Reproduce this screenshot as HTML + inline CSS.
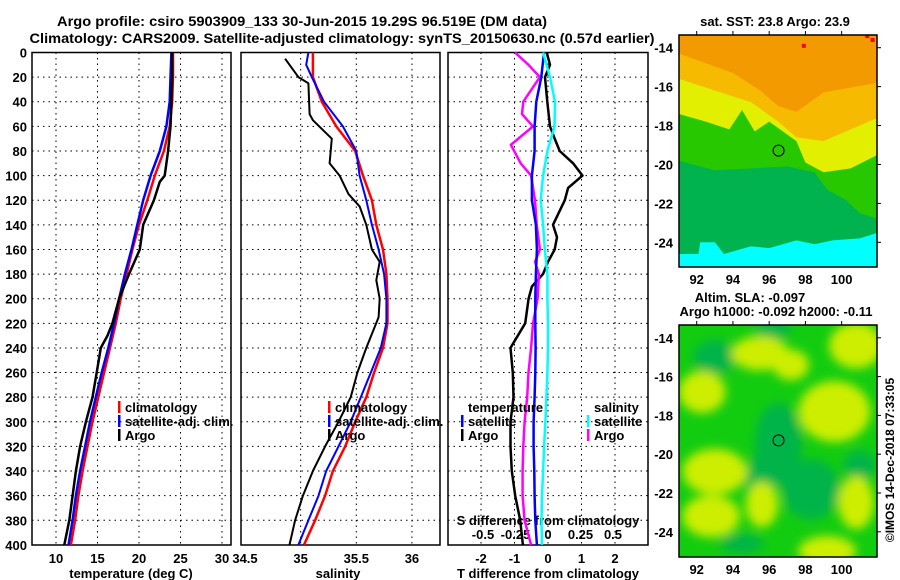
<!DOCTYPE html>
<html><head><meta charset="utf-8"><style>
html,body{margin:0;padding:0;background:#fff}
svg{display:block}
text{font-family:"Liberation Sans",sans-serif;font-weight:bold;fill:#000}
</style></head><body>
<svg id="c" width="900" height="580" viewBox="0 0 900 580" xmlns="http://www.w3.org/2000/svg">
<defs>
<clipPath id="m1c"><rect x="679" y="35" width="198" height="232"/></clipPath>
<clipPath id="m2c"><rect x="679" y="325" width="198" height="232"/></clipPath>
<filter id="bl"><feGaussianBlur stdDeviation="5"/></filter>
</defs>
<text x="302" y="26" font-size="14" text-anchor="middle" textLength="490" lengthAdjust="spacingAndGlyphs">Argo profile: csiro 5903909_133 30-Jun-2015 19.29S 96.519E (DM data)</text>
<text x="342" y="43" font-size="14" text-anchor="middle" textLength="625" lengthAdjust="spacingAndGlyphs">Climatology: CARS2009. Satellite-adjusted climatology: synTS_20150630.nc (0.57d earlier)</text>
<g id="g"></g>
</svg>
<script>
// ---- data (depth in m) ----
const depthsT = [0,20,40,60,80,100,120,140,160,180,200,220,240,260,280,300,320,340,360,380,400];
const tempClim = [24.1,24.1,24.0,23.7,23.0,21.9,21.0,20.0,19.2,18.5,17.8,17.2,16.5,15.8,15.1,14.4,13.8,13.2,12.7,12.3,11.8];
const tempSat = [23.9,23.8,23.7,23.3,22.5,21.4,20.5,19.8,19.1,18.3,17.6,17.0,16.3,15.5,14.8,14.1,13.5,12.9,12.4,12.0,11.5];
const depthsTA = [0,20,40,60,80,90,100,105,120,140,160,180,200,220,230,240,260,280,300,320,340,360,380,400];
const tempArgo = [24.0,24.0,23.9,23.8,23.5,23.3,23.1,22.5,21.8,20.5,20.1,18.8,17.6,16.8,16.2,15.4,14.9,14.4,13.6,12.9,12.4,12.0,11.6,11.0];
const depthsS = [0,10,20,40,60,80,100,120,140,160,180,200,220,240,260,280,300,320,340,360,380,400];
const salClim = [35.11,35.11,35.11,35.19,35.32,35.49,35.56,35.64,35.68,35.74,35.77,35.78,35.78,35.74,35.66,35.59,35.49,35.40,35.29,35.22,35.13,35.03];
const salSat = [35.07,35.05,35.10,35.21,35.38,35.50,35.53,35.59,35.64,35.70,35.75,35.77,35.77,35.72,35.63,35.54,35.45,35.34,35.23,35.16,35.07,34.98];
const depthsSA = [5,10,20,25,50,55,70,90,100,115,125,140,160,170,185,200,215,240,260,280,300,320,340,360,380,400];
const salArgo = [34.86,34.90,34.98,35.07,35.08,35.11,35.28,35.26,35.35,35.43,35.53,35.59,35.64,35.71,35.68,35.71,35.70,35.59,35.51,35.45,35.34,35.22,35.11,35.02,34.95,34.90];
const depthsD = [0,20,40,60,80,100,120,140,160,180,200,220,240,260,280,300,320,340,360,380,400];
const tDiffSat = [-0.12,-0.2,-0.35,-0.4,-0.4,-0.48,-0.48,-0.36,-0.33,-0.36,-0.38,-0.38,-0.37,-0.38,-0.4,-0.43,-0.43,-0.41,-0.4,-0.38,-0.33];
const depthsTD = [0,10,20,40,60,70,80,90,100,110,120,140,150,160,170,180,190,200,220,240,260,280,300,320,340,360,380,400];
const tDiffArgo = [-0.04,0.06,-0.09,-0.02,0.06,0.2,0.35,0.75,1.03,0.6,0.5,0.15,0.27,0.2,0,-0.15,-0.48,-0.58,-0.68,-1.12,-1.05,-1.03,-1.12,-1.12,-1.08,-0.98,-0.83,-0.75];
const sDiffSat = [-0.038,0.015,0.054,0.05,-0.005,-0.038,-0.056,-0.038,-0.025,-0.005,-0.005,0,0,-0.005,-0.012,-0.02,-0.03,-0.038,-0.046,-0.05,-0.046];
const depthsSD = [0,10,20,40,50,60,75,90,100,120,140,160,170,180,200,220,240,260,280,300,320,340,360,380,400];
const sDiffArgo = [-0.254,-0.15,-0.062,-0.19,-0.2,-0.115,-0.285,-0.21,-0.13,-0.1,-0.087,-0.062,-0.1,-0.07,-0.08,-0.115,-0.13,-0.15,-0.16,-0.18,-0.19,-0.195,-0.195,-0.18,-0.13];
const depthTicks = [0,20,40,60,80,100,120,140,160,180,200,220,240,260,280,300,320,340,360,380,400];
const tempTicks = [10,15,20,25,30];
const salTicks = [34.5,35,35.5,36];
const tDiffTicks = [-2,-1,0,1,2];
const sDiffTicks = ["-0.5","-0.25","0","0.25","0.5"];
const lonTicks = [92,94,96,98,100];
const latTicks = [-14,-16,-18,-20,-22,-24];
const argoLon = 96.519, argoLat = -19.29;

// ---- scales ----
const NS="http://www.w3.org/2000/svg", G=document.getElementById('g');
const yD = d => 52.5 + d*1.231;
const xT = t => 56 + (t-10)*8.3;
const xS = s => 245 + (s-34.5)*111.3;
const xTD = v => 548 + v*33.5;
const xSD = v => 548 + v*130;
const xLon = l => 696.7 + (l-92)*18.12;
const yLat1 = l => 47.7 + (-14-l)*19.46;
const yLat2 = l => 337.8 + (-14-l)*19.4;
function el(tag, attrs, parent){const e=document.createElementNS(NS,tag);for(const k in attrs)e.setAttribute(k,attrs[k]);(parent||G).appendChild(e);return e;}
function txt(x,y,s,size,anchor,parent){const e=el('text',{x:x,y:y,'font-size':size,'text-anchor':anchor||'middle'},parent);e.textContent=s;return e;}
function line(xs,ds,xf,color,w,name){
  const p=xs.map((v,i)=>(i?'L':'M')+xf(v).toFixed(1)+','+yD(ds[i]).toFixed(1)).join('');
  const e=el('path',{d:p,fill:'none',stroke:color,'stroke-width':w,'stroke-linejoin':'round'});
  
  
}
function panel(x0,x1,vticks,xf,name){
  const r=el('rect',{x:x0,y:52.5,width:x1-x0,height:492.5,fill:'#fff',stroke:'#000','stroke-width':1.5});
  
  
  depthTicks.forEach(d=>{if(d>0&&d<400)el('line',{x1:x0,x2:x1,y1:yD(d),y2:yD(d),stroke:'#000','stroke-dasharray':'1.5,4'});});
  vticks.forEach(v=>{const x=xf(v);if(x>x0+2&&x<x1-2)el('line',{x1:x,x2:x,y1:52.5,y2:545,stroke:'#000','stroke-dasharray':'1.5,4'});});
}
// panel 1
panel(32,231,tempTicks,xT,'temperature-panel');
depthTicks.forEach(d=>{const t=txt(27,yD(d)+5,String(d),13,'end');});
tempTicks.forEach(v=>{const t=txt(xT(v),563,String(v),13);});
let at=txt(131,578,'temperature (deg C)',13);
line(tempClim,depthsT,xT,'#ff0000',2.5,'temperature-climatology-line');
line(tempSat,depthsT,xT,'#0000ff',2.5,'temperature-satellite-line');
line(tempArgo,depthsTA,xT,'#000000',2.5,'temperature-argo-line');
// panel 2
panel(241,440,[35,35.5,36],xS,'salinity-panel');
salTicks.forEach(v=>{const t=txt(xS(v),563,String(v),13);});
at=txt(338,578,'salinity',13);
line(salClim,depthsS,xS,'#ff0000',2.5,'salinity-climatology-line');
line(salSat,depthsS,xS,'#0000ff',2,'salinity-satellite-line');
line(salArgo,depthsSA,xS,'#000000',2,'salinity-argo-line');
// panel 3
panel(448,648,tDiffTicks,xTD,'difference-panel');
tDiffTicks.forEach(v=>{const t=txt(xTD(v),563,String(v),13);});
at=txt(548,578,'T difference from climatology',13);
sDiffTicks.forEach(v=>{const t=txt(xSD(parseFloat(v)),539,v,13);});
at=txt(548,525,'S difference from climatology',13);
line(tDiffArgo,depthsTD,xTD,'#000000',2.5,'t-diff-argo-line');
line(sDiffArgo,depthsSD,xSD,'#ff00ff',2.5,'s-diff-argo-line');
line(tDiffSat,depthsD,xTD,'#0000ff',2.5,'t-diff-satellite-line');
line(sDiffSat,depthsD,xSD,'#00ffff',2.5,'s-diff-satellite-line');
// legends
function leg(x,y,color,label,name){
  if(color){const b=el('rect',{x:x,y:y-6,width:2.5,height:12,fill:color});}
  const t=txt(x+7,y+5,label,13,'start');
  
  
}
leg(118,407,'#ff0000','climatology','legend-climatology');
leg(118,421,'#0000ff','satellite-adj. clim.','legend-satellite-adj');
leg(118,435,'#000000','Argo','legend-argo');
leg(328,407,'#ff0000','climatology','legend-climatology-salinity');
leg(328,421,'#0000ff','satellite-adj. clim.','legend-satellite-adj-salinity');
leg(328,435,'#000000','Argo','legend-argo-salinity');
leg(461,407,null,'temperature','legend-temperature-heading');
leg(461,421,'#0000ff','satellite','legend-temp-satellite');
leg(461,435,'#000000','Argo','legend-temp-argo');
leg(587,407,null,'salinity','legend-salinity-heading');
leg(587,421,'#00ffff','satellite','legend-sal-satellite');
leg(587,435,'#ff00ff','Argo','legend-sal-argo');

// ---- maps ----
function poly(pts,yl,fill,parent){return el('polygon',{points:pts.map(p=>xLon(p[0]).toFixed(1)+','+yl(p[1]).toFixed(1)).join(' '),fill:fill},parent);}
const m1=el('g',{'clip-path':'url(#m1c)'});


el('rect',{x:679,y:35,width:198,height:232,fill:'#f39a00'},m1);
poly([[91,-14.3],[92.5,-14.8],[94,-15.3],[95.5,-16.2],[96.5,-17],[97.5,-17.3],[99,-16.3],[102,-15.8],[102,-26],[91,-26]],yLat1,'#f6bb00',m1);
poly([[91,-15.6],[93,-16.2],[95,-16.8],[96.5,-17.8],[97.5,-18.6],[99,-18.8],[100.5,-18.2],[102,-17.6],[102,-26],[91,-26]],yLat1,'#e2ef00',m1);
poly([[91,-17.4],[92.5,-17.8],[93.8,-18.2],[94.5,-17.2],[95.2,-18.3],[96,-17.8],[97.5,-18.8],[98,-19.9],[99,-20.4],[100.5,-20.2],[102,-19.5],[102,-26],[91,-26]],yLat1,'#28c800',m1);
poly([[91,-19.8],[93,-20.3],[95,-20.2],[97,-20.1],[98.5,-20.4],[99.2,-21.3],[100.2,-21.8],[101,-22.5],[102,-22.8],[102,-26],[91,-26]],yLat1,'#00b34e',m1);
poly([[91,-24.6],[92.1,-24.6],[92.2,-24],[93,-24],[93.5,-24.6],[95,-24.2],[96,-24.3],[97.5,-23.9],[98.5,-24.1],[99.5,-23.9],[101,-23.8],[102,-23.5],[102,-26],[91,-26]],yLat1,'#00ffff',m1);
[[97.8,-13.8],[101.6,-13.5],[101.3,-13.3]].forEach(p=>el('rect',{x:xLon(p[0]),y:yLat1(p[1]),width:4,height:4,fill:'#ff0000'},m1));
el('rect',{x:679,y:35,width:198,height:232,fill:'none',stroke:'#000','stroke-width':1.5});
el('circle',{cx:xLon(argoLon),cy:yLat1(argoLat),r:5.5,fill:'none',stroke:'#000','stroke-width':1});

const m2=el('g',{'clip-path':'url(#m2c)'});


el('rect',{x:679,y:325,width:198,height:232,fill:'#12cc10'},m2);
const bg=el('g',{filter:'url(#bl)'},m2);
[[93,-15,1.2,0.9],[96.5,-19.5,1.3,2.2],[98.3,-21.8,1.6,1.6],[101,-20.6,0.9,0.8],[94.5,-24.6,1.2,0.5],[96.2,-13.6,1,0.5],[95.5,-21.5,0.8,1.5]].forEach(b=>el('ellipse',{cx:xLon(b[0]),cy:yLat2(b[1]),rx:b[2]*18,ry:b[3]*19,fill:'#00b448'},bg));
[[92.3,-16.8,1.3,1.1],[95.5,-14.8,1.6,0.9],[100.8,-14.4,1.5,1.2],[99.6,-17.8,2,1.6],[93,-20.9,1.8,1.2],[92.8,-23.2,1.6,1.1],[95.6,-22.6,0.9,1.2],[99.2,-25,1.6,0.8],[100.8,-22.5,1,1.4],[97.2,-15.4,1,0.8]].forEach(b=>el('ellipse',{cx:xLon(b[0]),cy:yLat2(b[1]),rx:b[2]*18,ry:b[3]*19,fill:'#cdee00'},bg));
el('rect',{x:679,y:325,width:198,height:232,fill:'none',stroke:'#000','stroke-width':1.5});
el('circle',{cx:xLon(argoLon),cy:yLat2(argoLat),r:5.5,fill:'none',stroke:'#000','stroke-width':1});

// map ticks & labels
lonTicks.forEach(l=>{
  const x=xLon(l);
  el('line',{x1:x,x2:x,y1:35,y2:31,stroke:'#000'});
  el('line',{x1:x,x2:x,y1:325,y2:321,stroke:'#000'});
  let t=txt(x,284,String(l),13);
  t=txt(x,574,String(l),13);
});
latTicks.forEach(l=>{
  el('line',{x1:877,x2:881,y1:yLat1(l),y2:yLat1(l),stroke:'#000'});
  el('line',{x1:877,x2:881,y1:yLat2(l),y2:yLat2(l),stroke:'#000'});
  let t=txt(673,yLat1(l)+5,String(l),13,'end');
  t=txt(673,yLat2(l)+5,String(l),13,'end');
});
at=txt(775,26,'sat. SST: 23.8 Argo: 23.9',13);
at=txt(750,302,'Altim. SLA: -0.097',13);
at=txt(776,316,'Argo h1000: -0.092 h2000: -0.11',13);
at=txt(0,0,'©IMOS 14-Dec-2018 07:33:05',12);at.setAttribute('transform','translate(894,460) rotate(-90)');at.setAttribute('font-weight','normal');

</script>
</body></html>
